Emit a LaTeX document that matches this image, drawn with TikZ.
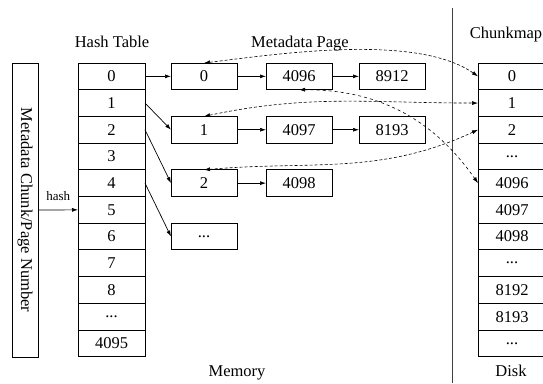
\documentclass[tikz,border=0pt]{standalone}
\usepackage{fontspec}
\setmainfont{Liberation Serif}
\usetikzlibrary{positioning}
\usetikzlibrary{arrows.meta}

\tikzset{
  cell/.style={draw, line width=0.8pt, outer sep=0pt, inner sep=0pt,
    minimum width=67pt, minimum height=26.7pt},
  page/.style={cell, minimum width=66pt},
  link/.style={line width=0.7pt, -{Latex[length=6pt,width=4pt]}},
  ptr/.style={line width=0.6pt, densely dashed,
    {Latex[length=6pt,width=4pt]}-{Latex[length=6pt,width=4pt]}},
}

\begin{document}
\begin{tikzpicture}[x=1pt, y=1pt, font=\fontsize{16.5}{19}\selectfont]
        \useasboundingbox (0,0) rectangle (543,383);

        \node[draw, line width=0.8pt, rotate=-90, inner sep=0pt,
          minimum width=294pt, minimum height=26pt] (key) at (25,173) {Metadata Chunk/Page Number};

        % hash table
        \node[anchor=base] (hashtitle) at (112,335.5) {Hash Table};
        \node[cell] (h0) at (111.5,306.65) {0};
        \node[cell, below=0pt of h0] (h1) {1};
        \node[cell, below=0pt of h1] (h2) {2};
        \node[cell, below=0pt of h2] (h3) {3};
        \node[cell, below=0pt of h3] (h4) {4};
        \node[cell, below=0pt of h4] (h5) {5};
        \node[cell, below=0pt of h5] (h6) {6};
        \node[cell, below=0pt of h6] (h7) {7};
        \node[cell, below=0pt of h7] (h8) {8};
        \node[cell, below=0pt of h8] (h9) {...};
        \node[cell, below=0pt of h9] (h10) {4095};

        \draw[link] (key.north) -- (h5.west)
          node[midway, above=6pt, font=\fontsize{13}{15}\selectfont] (hashlabel) {hash};

        % metadata pages
        \node[anchor=base] (pagetitle) at (300,335.5) {Metadata Page};
        \node[page, right=26pt of h0] (m00) {0};
        \node[page, right=29pt of m00] (m01) {4096};
        \node[page, right=27pt of m01] (m02) {8912};
        \node[page, right=26pt of h2] (m10) {1};
        \node[page, right=29pt of m10] (m11) {4097};
        \node[page, right=27pt of m11] (m12) {8193};
        \node[page, right=26pt of h4] (m20) {2};
        \node[page, right=29pt of m20] (m21) {4098};
        \node[page, right=26pt of h6] (m30) {...};

        \draw[link] (h0.east) -- (m00.west);
        \draw[link] (h1.east) -- (m10.west);
        \draw[link] (h2.east) -- (m20.west);
        \draw[link] (h4.east) -- (m30.west);
        \draw[link] (m00.east) -- (m01.west);
        \draw[link] (m01.east) -- (m02.west);
        \draw[link] (m10.east) -- (m11.west);
        \draw[link] (m11.east) -- (m12.west);
        \draw[link] (m20.east) -- (m21.west);

        % memory / disk split
        \coordinate (splittop) at (452,375);
        \coordinate (splitbot) at (452,0);
        \draw[line width=0.8pt, black!75] (splittop) -- (splitbot);
        \node[anchor=base] (memlabel) at (237,6.3) {Memory};
        \node[anchor=base] (disklabel) at (511,6.3) {Disk};

        % chunkmap on disk
        \node[anchor=base] (maptitle) at (506,344.5) {Chunkmap};
        \node[cell, minimum width=68pt] (c0) at (512,306.65) {0};
        \node[cell, minimum width=68pt, below=0pt of c0] (c1) {1};
        \node[cell, minimum width=68pt, below=0pt of c1] (c2) {2};
        \node[cell, minimum width=68pt, below=0pt of c2] (c3) {...};
        \node[cell, minimum width=68pt, below=0pt of c3] (c4) {4096};
        \node[cell, minimum width=68pt, below=0pt of c4] (c5) {4097};
        \node[cell, minimum width=68pt, below=0pt of c5] (c6) {4098};
        \node[cell, minimum width=68pt, below=0pt of c6] (c7) {...};
        \node[cell, minimum width=68pt, below=0pt of c7] (c8) {8192};
        \node[cell, minimum width=68pt, below=0pt of c8] (c9) {8193};
        \node[cell, minimum width=68pt, below=0pt of c9] (c10) {...};

        \draw[ptr] (m00.north) to[out=7, in=145, looseness=0.7] (c0.west);
        \draw[ptr] (m10.north) to[out=12, in=180] (c1.west);
        \draw[ptr] (m20.north) to[out=5, in=205] (c2.west);
        \draw[ptr, dashed] (m01.south) to[out=0, in=125] (c4.west);
\end{tikzpicture}
\end{document}
